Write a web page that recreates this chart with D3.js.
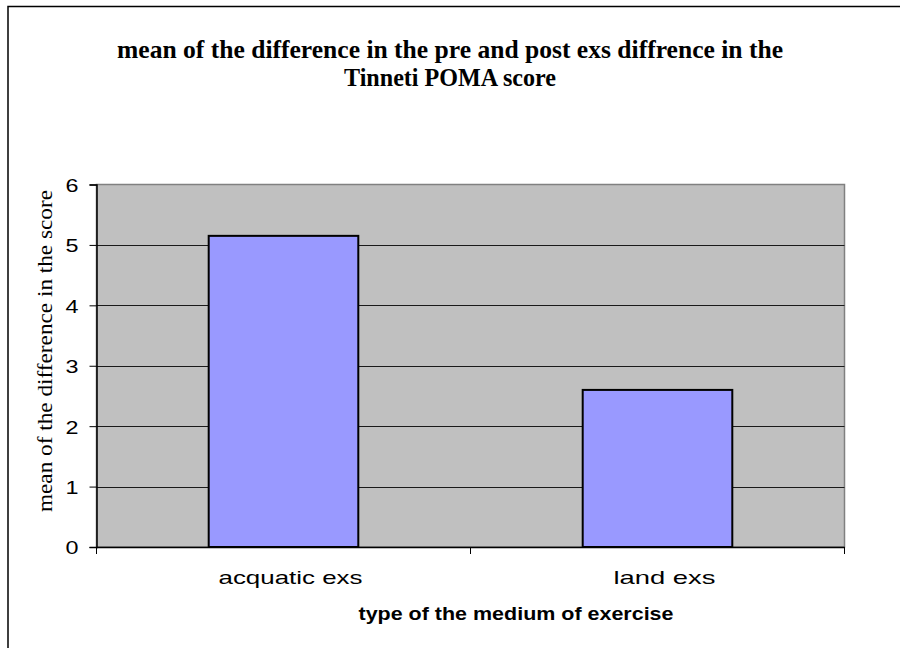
<!DOCTYPE html>
<html>
<head>
<meta charset="utf-8">
<script src="https://cdn.jsdelivr.net/npm/d3@7"></script>
<style>
  html, body { margin: 0; padding: 0; background: #fff; }
  svg { display: block; }
</style>
</head>
<body>
<svg id="chart" width="900" height="648"></svg>
<script>
// Exercise medium categories and mean change in Tinetti POMA score
const categories = ["acquatic exs", "land exs"];
const meanDiff = [5.15, 2.6];
const yTicks = [0, 1, 2, 3, 4, 5, 6];

const titleLines = [
  "mean of the difference in the pre and post exs diffrence in the",
  "Tinneti POMA score"
];
const xTitle = "type of the medium of exercise";
const yTitle = "mean of the difference in the score";

const SANS = "'Liberation Sans', Arial, sans-serif";
const SERIF = "'Liberation Serif', 'Times New Roman', serif";

const svg = d3.select("#chart");
const plot = { left: 96.5, right: 844.5, top: 184.5, bottom: 547 };

// outer chart frame
svg.append("rect")
  .attr("x", 8).attr("y", 6.5)
  .attr("width", 1000).attr("height", 1000)
  .attr("fill", "#fff")
  .attr("stroke", "#000").attr("stroke-width", 1.5);

const x = d3.scaleBand().domain(categories).range([plot.left, plot.right]).paddingInner(0).paddingOuter(0);
const y = d3.scaleLinear().domain([0, 6]).range([plot.bottom, plot.top]);

// plot background
svg.append("rect")
  .attr("x", plot.left).attr("y", plot.top)
  .attr("width", plot.right - plot.left).attr("height", plot.bottom - plot.top)
  .attr("fill", "#c0c0c0")
  .attr("stroke", "#808080").attr("stroke-width", 1.5);

// horizontal gridlines
svg.append("g").selectAll("line")
  .data(yTicks.filter(d => d > 0 && d < 6))
  .join("line")
  .attr("x1", plot.left).attr("x2", plot.right)
  .attr("y1", d => Math.round(y(d)) + 0.5).attr("y2", d => Math.round(y(d)) + 0.5)
  .attr("stroke", "#1a1a1a").attr("stroke-width", 1);

// bars
const barW = x.bandwidth() * 0.4;
svg.append("g").selectAll("rect")
  .data(categories.map((c, i) => ({ c, v: meanDiff[i] })))
  .join("rect")
  .attr("x", d => x(d.c) + (x.bandwidth() - barW) / 2)
  .attr("y", d => y(d.v))
  .attr("width", barW)
  .attr("height", d => y(0) - y(d.v))
  .attr("fill", "#9999ff")
  .attr("stroke", "#000").attr("stroke-width", 2);

// y axis (wide-set digits)
const yAxis = svg.append("g")
  .attr("transform", `translate(${plot.left},0)`)
  .call(d3.axisLeft(y).tickValues(yTicks).tickFormat(d3.format("d")).tickSize(7).tickPadding(11));
yAxis.select(".domain").attr("stroke", "#000").attr("stroke-width", 1.5);
yAxis.selectAll(".tick line").attr("stroke", "#000");
yAxis.selectAll(".tick text")
  .attr("font-family", SANS)
  .attr("font-size", 19).attr("fill", "#000")
  .attr("dy", "0.36em")
  .attr("textLength", 13).attr("lengthAdjust", "spacingAndGlyphs");

// x axis
const xAxis = svg.append("g")
  .attr("transform", `translate(0,${plot.bottom})`)
  .call(d3.axisBottom(x).tickSize(0).tickPadding(0));
xAxis.select(".domain").attr("stroke", "#000").attr("stroke-width", 1.5);
const xLabelWidths = { "acquatic exs": 144, "land exs": 102 };
xAxis.selectAll(".tick text")
  .attr("x", 7).attr("y", 37).attr("dy", null)
  .attr("font-family", SANS)
  .attr("font-size", 19).attr("fill", "#000")
  .attr("textLength", d => xLabelWidths[d]).attr("lengthAdjust", "spacingAndGlyphs");
// category separator ticks
xAxis.append("g").selectAll("line")
  .data([plot.left, ...categories.map(c => x(c) + x.bandwidth())])
  .join("line")
  .attr("x1", d => d).attr("x2", d => d)
  .attr("y1", 0).attr("y2", 7)
  .attr("stroke", "#000");

// title
const titleWidths = [666, 212];
svg.append("g").selectAll("text").data(titleLines).join("text")
  .attr("x", 450).attr("y", (d, i) => 58 + i * 28)
  .attr("text-anchor", "middle")
  .attr("font-family", SERIF)
  .attr("font-weight", "bold").attr("font-size", 26)
  .attr("textLength", (d, i) => titleWidths[i]).attr("lengthAdjust", "spacingAndGlyphs")
  .text(d => d);

// x axis title
svg.append("text")
  .attr("x", 516).attr("y", 620)
  .attr("text-anchor", "middle")
  .attr("font-family", SANS)
  .attr("font-weight", "bold").attr("font-size", 18)
  .attr("textLength", 315).attr("lengthAdjust", "spacingAndGlyphs")
  .text(xTitle);

// y axis title
svg.append("text")
  .attr("transform", "translate(52,351) rotate(-90)")
  .attr("text-anchor", "middle")
  .attr("font-family", SERIF)
  .attr("font-size", 22)
  .attr("textLength", 322).attr("lengthAdjust", "spacingAndGlyphs")
  .text(yTitle);
</script>
</body>
</html>
